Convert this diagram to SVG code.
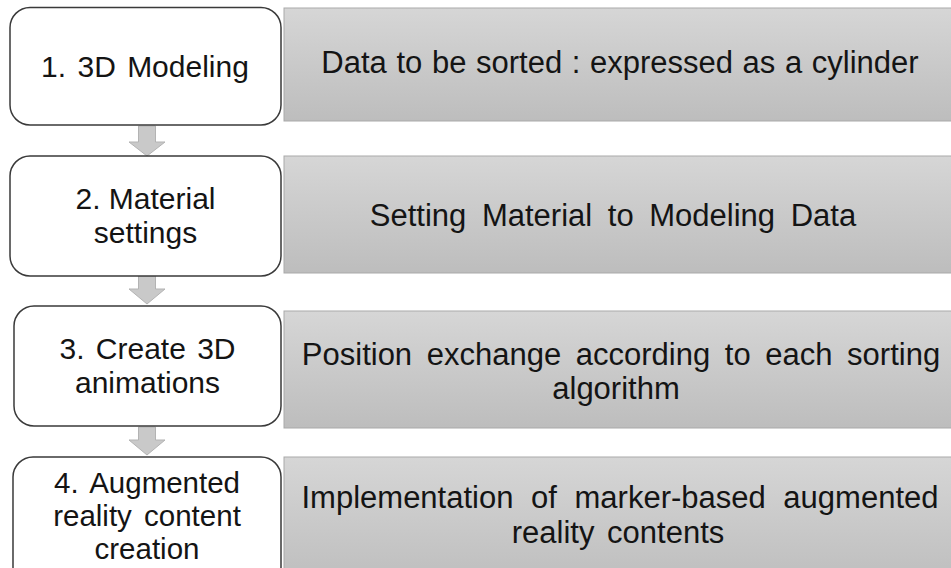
<svg xmlns="http://www.w3.org/2000/svg" width="951" height="568" viewBox="0 0 951 568">
<defs>
<linearGradient id="g" x1="0" y1="0" x2="0" y2="1">
<stop offset="0" stop-color="#d6d6d6"/>
<stop offset="1" stop-color="#bdbdbd"/>
</linearGradient>
<style>
.step{fill:#ffffff;stroke:#3a3a3a;stroke-width:1.5}
.desc{fill:url(#g);stroke:#a9a9a9;stroke-width:1}
.arrow{fill:#c9c9c9;stroke:#b3b3b3;stroke-width:1}
text{font-family:"Liberation Sans",Arial,sans-serif;font-size:30px;fill:#141414;text-anchor:middle}
.d{font-size:31px}
.s4{font-size:29.5px;word-spacing:4px}
</style>
</defs>
<rect width="951" height="568" fill="#ffffff"/>
<g id="connectors">
<path class="arrow" d="M138.5 126 H155.5 V142 H165 L147 156 L129 142 H138.5 Z"/>
<path class="arrow" d="M138.5 276 H155.5 V289 H165 L147 304 L129 289 H138.5 Z"/>
<path class="arrow" d="M138.5 427 H155.5 V440 H165 L147 455 L129 440 H138.5 Z"/>
</g>
<g id="step1">
<rect class="step" x="10" y="7.5" width="271" height="117.5" rx="20"/>
<text x="145" y="77" style="word-spacing:3px">1. 3D Modeling</text>
</g>
<g id="desc1">
<rect class="desc" x="284" y="8" width="680" height="113"/>
<text class="d" x="620" y="73" style="word-spacing:1px">Data to be sorted : expressed as a cylinder</text>
</g>
<g id="step2">
<rect class="step" x="10" y="156" width="271" height="120" rx="20"/>
<text x="145.5" y="209">2. Material</text>
<text x="145.5" y="243">settings</text>
</g>
<g id="desc2">
<rect class="desc" x="284" y="156" width="680" height="117"/>
<text class="d" x="613" y="226" style="word-spacing:7px">Setting Material to Modeling Data</text>
</g>
<g id="step3">
<rect class="step" x="14" y="306" width="267" height="120" rx="20"/>
<text x="147.5" y="359" style="word-spacing:3px">3. Create 3D</text>
<text x="147.5" y="393">animations</text>
</g>
<g id="desc3">
<rect class="desc" x="284" y="311" width="680" height="117"/>
<text class="d" x="621" y="365" style="word-spacing:6px">Position exchange according to each sorting</text>
<text class="d" x="616" y="399">algorithm</text>
</g>
<g id="step4">
<rect class="step" x="13" y="457" width="268" height="130" rx="20"/>
<text class="s4" x="147" y="493">4. Augmented</text>
<text class="s4" x="147" y="526">reality content</text>
<text class="s4" x="147" y="559">creation</text>
</g>
<g id="desc4">
<rect class="desc" x="284" y="457" width="680" height="130"/>
<text class="d" x="620" y="508" style="word-spacing:9px">Implementation of marker-based augmented</text>
<text class="d" x="618" y="543" style="word-spacing:4px">reality contents</text>
</g>
</svg>
